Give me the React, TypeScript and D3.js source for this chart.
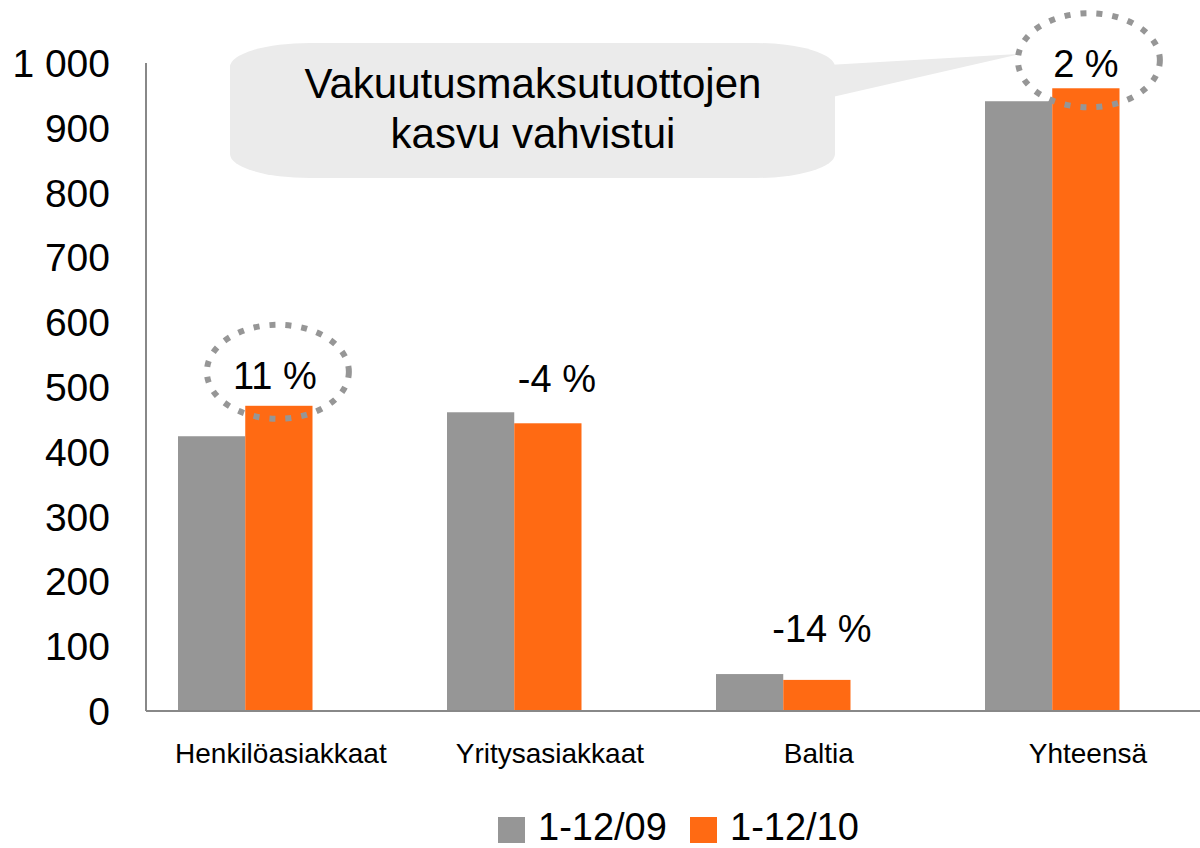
import React from 'react';
import { scaleBand, scaleLinear, formatLocale, range } from 'd3';

const categories = ['Henkilöasiakkaat', 'Yritysasiakkaat', 'Baltia', 'Yhteensä'];
const seriesNames = ['1-12/09', '1-12/10'];
const values09 = [424, 461, 57, 941];
const values10 = [471, 444, 48, 961];
const changeLabels = ['11 %', '-4 %', '-14 %', '2 %'];
const yTicks = [0, 100, 200, 300, 400, 500, 600, 700, 800, 900, 1000];
const circled = [0, 3];
const calloutLines = ['Vakuutusmaksutuottojen', 'kasvu vahvistui'];

const colors = ['#969696', '#ff6a13'];
const font = '"Liberation Sans", Arial, sans-serif';
// small nudges for the % labels (dx, lift above orange bar)
const pctShift = [
  [-4, 17],
  [9, 31],
  [5, 38],
  [0, 11],
];

const fi = formatLocale({ decimal: ',', thousands: ' ', grouping: [3], currency: ['', '€'] });
const fmt = fi.format(',');

const W = 1200;
const H = 848;

const App = () => {
  const x0 = scaleBand<string>()
    .domain(categories)
    .range([110.75, 1186.75])
    .paddingInner(0.5)
    .paddingOuter(0.25);
  const x1 = scaleBand<string>().domain(seriesNames).range([0, x0.bandwidth()]);
  const y = scaleLinear().domain([0, 1000]).range([711, 63]);
  const series = [values09, values10];

  const labelX = (i: number) =>
    (x0(categories[i]) as number) + (x1(seriesNames[1]) as number) + x1.bandwidth() / 2;

  return (
    <svg width={W} height={H} style={{ display: 'block', position: 'absolute', left: 0, top: 0 }}>
      <rect width={W} height={H} fill="#fff" />

      {/* callout */}
      <g fill="#ebebeb">
        <rect x={230} y={43} width={605} height={135} rx={80} ry={24} />
        <polygon points="828,65 1020,54 828,98" />
      </g>
      {calloutLines.map((t, i) => (
        <text
          key={t}
          x={533}
          y={98 + i * 50}
          textAnchor="middle"
          fontFamily={font}
          fontSize={42}
          fill="#000"
        >
          {t}
        </text>
      ))}

      {/* bars */}
      {series.map((vals, s) => (
        <g key={seriesNames[s]} fill={colors[s]}>
          {vals.map((v, i) => (
            <rect
              key={categories[i]}
              x={(x0(categories[i]) as number) + (x1(seriesNames[s]) as number)}
              y={y(v)}
              width={x1.bandwidth()}
              height={y(0) - y(v)}
            />
          ))}
        </g>
      ))}

      {/* axes */}
      <line x1={146} x2={146} y1={y(1000)} y2={y(0)} stroke="#888" strokeWidth={2} />
      <line x1={146} x2={W} y1={y(0)} y2={y(0)} stroke="#888" strokeWidth={2} />
      {yTicks.map((t) => (
        <text
          key={t}
          x={110}
          y={y(t)}
          dy="0.36em"
          textAnchor="end"
          fontFamily={font}
          fontSize={39}
          fill="#000"
        >
          {fmt(t)}
        </text>
      ))}
      {categories.map((c, i) => (
        <text
          key={c}
          x={labelX(i) + 2}
          y={763}
          textAnchor="middle"
          fontFamily={font}
          fontSize={28}
          fill="#000"
        >
          {c}
        </text>
      ))}

      {/* change labels */}
      {changeLabels.map((t, i) => {
        const lx = labelX(i) + pctShift[i][0];
        const ly = y(values10[i]) - pctShift[i][1];
        return (
          <g key={t}>
            {circled.includes(i) && (
              <ellipse
                cx={lx + 3}
                cy={ly - 17}
                rx={71}
                ry={47}
                fill="none"
                stroke="#969696"
                strokeWidth={6}
                strokeDasharray="6 10"
              />
            )}
            <text x={lx} y={ly} textAnchor="middle" fontFamily={font} fontSize={38} fill="#000">
              {t}
            </text>
          </g>
        );
      })}

      {/* legend */}
      {range(seriesNames.length).map((s) => (
        <g key={seriesNames[s]} transform={`translate(${498 + s * 192},0)`}>
          <rect x={0} y={817} width={27} height={26} fill={colors[s]} />
          <text x={40} y={840} fontFamily={font} fontSize={38} fill="#000">
            {seriesNames[s]}
          </text>
        </g>
      ))}
    </svg>
  );
};

export default App;
